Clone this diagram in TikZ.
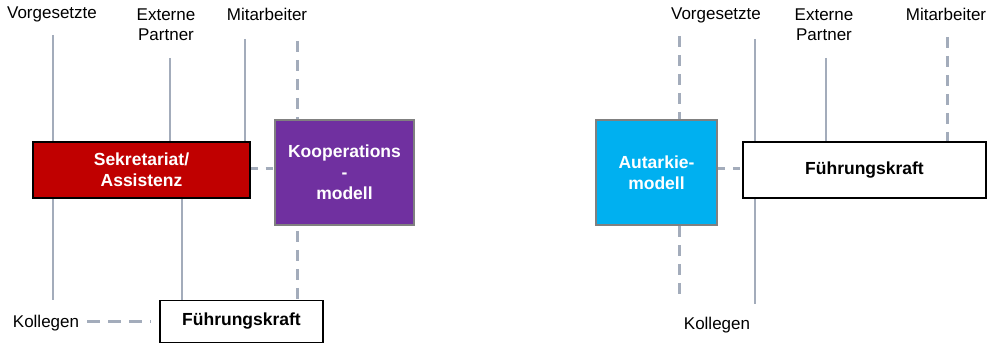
\documentclass[tikz,border=0pt]{standalone}
\usepackage{fontspec}
\setmainfont{Liberation Sans}
\usetikzlibrary{calc}
\pgfdeclarelayer{bg}
\pgfsetlayers{bg,main}
\definecolor{conn}{HTML}{A3ACBB}
\definecolor{sekred}{HTML}{C00000}
\definecolor{koopurple}{HTML}{7030A0}
\definecolor{autblue}{HTML}{00B0F0}
\definecolor{boxgrey}{HTML}{808080}
\tikzset{
  lbl/.style={align=center, inner sep=0pt, font=\fontsize{17}{20}\selectfont, text=black},
  solidline/.style={draw=conn, line width=1.6pt},
  dashline/.style={draw=conn, line width=3pt, dash pattern=on 11pt off 8pt},
  redbox/.style={draw=black, line width=1.2pt, fill=sekred, text=white, font=\bfseries\fontsize{17.5}{21}\selectfont, align=center, inner sep=0pt},
  modbox/.style={draw=boxgrey, line width=1.5pt, text=white, font=\bfseries\fontsize{17.5}{21}\selectfont, align=center, inner sep=0pt},
  whitebox/.style={draw=black, line width=1.4pt, fill=white, text=black, font=\bfseries\fontsize{17.5}{20}\selectfont, align=center, inner sep=0pt}
}
\begin{document}
\begin{tikzpicture}[x=1pt,y=-1pt]
\useasboundingbox (0,0) rectangle (994,344);
% ---------- left diagram ----------
\node[lbl] (vorg) at (52,14) {Vorgesetzte};
\node[lbl] (ext) at (166,25) {Externe\\Partner};
\node[lbl] (mit) at (267,14) {Mitarbeiter};
\node[lbl] (kol) at (46,323) {Kollegen};
\node[redbox, minimum width=217pt, minimum height=56pt] (sek) at (141.5,170) {Sekretariat/\\Assistenz};
\node[modbox, fill=koopurple, minimum width=139pt, minimum height=105pt] (koop) at (344.5,172.5) {Kooperations\\-\\modell};
\node[whitebox, minimum width=163pt, minimum height=42pt] (fk1) at (241.5,321.5) {Führungskraft};
\coordinate (v1t) at (53,35);
\coordinate (v1b) at (53,300);
\coordinate (e1t) at (170,58);
\coordinate (m1t) at (245,39);
\coordinate (d1t) at (297,41);
\coordinate (s1) at (182,198);
\begin{pgfonlayer}{bg}
\draw[solidline] (v1t) -- (v1b);
\draw[solidline] (e1t) -- (e1t |- sek.north);
\draw[solidline] (m1t) -- (m1t |- sek.north);
\draw[dashline] (d1t) -- (d1t |- fk1.north);
\draw[solidline] (s1 |- sek.south) -- (s1 |- fk1.north);
\draw[dashline, dash pattern=on 7pt off 8pt] (sek.east |- 0,169) -- (koop.west |- 0,169);
\draw[dashline, dash pattern=on 13pt off 8pt] ($(kol.east)+(8,-1)$) -- ($(fk1.west |- kol.east)+(-8,-1)$);
\end{pgfonlayer}
% ---------- right diagram ----------
\node[lbl] (vorg2) at (716,15) {Vorgesetzte};
\node[lbl] (ext2) at (824,25) {Externe\\Partner};
\node[lbl] (mit2) at (946,14) {Mitarbeiter};
\node[lbl] (kol2) at (717,325) {Kollegen};
\node[modbox, fill=autblue, minimum width=121pt, minimum height=105pt] (aut) at (656.5,172.5) {Autarkie-\\modell};
\node[whitebox, minimum width=243pt, minimum height=56pt] (fk2) at (864.5,170) {Führungskraft};
\coordinate (d2t) at (679,36);
\coordinate (d2b) at (679,300);
\coordinate (v2t) at (755,39);
\coordinate (v2b) at (755,304);
\coordinate (e2t) at (826,58);
\coordinate (m2t) at (947,37);
\begin{pgfonlayer}{bg}
\draw[dashline] (d2t) -- (d2b);
\draw[solidline] (v2t) -- (v2b);
\draw[solidline] (e2t) -- (e2t |- fk2.north);
\draw[dashline] (m2t) -- (m2t |- fk2.north);
\draw[dashline, dash pattern=on 7pt off 8pt] (aut.east |- 0,169) -- (fk2.west |- 0,169);
\end{pgfonlayer}
\end{tikzpicture}
\end{document}
